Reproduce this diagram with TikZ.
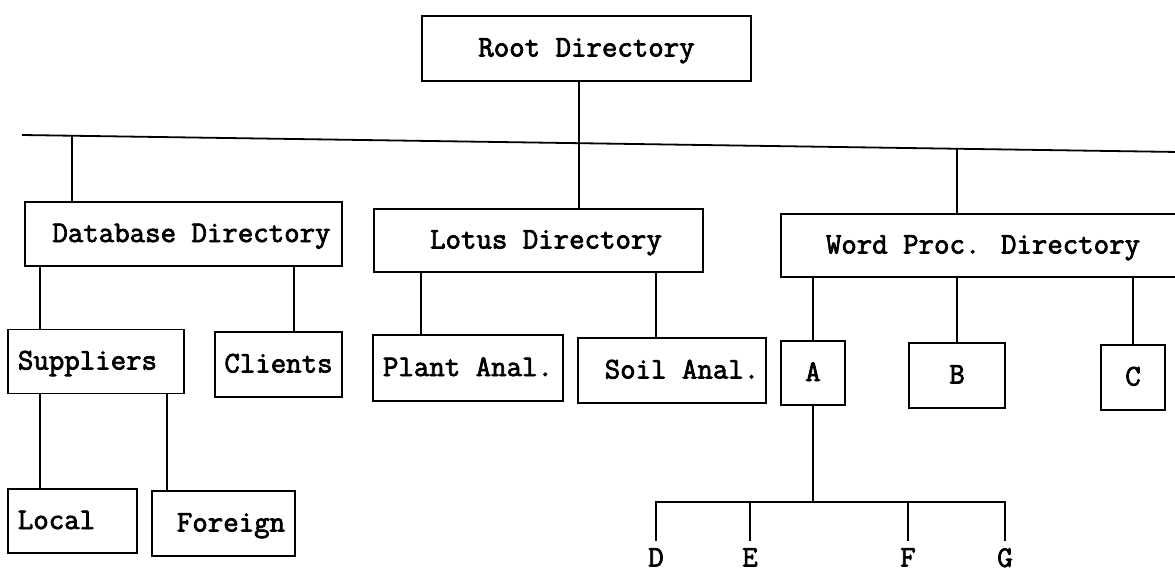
\documentclass[tikz,border=0pt]{standalone}
\usepackage{fontspec}
\newfontfamily\boxfont{Latin Modern Mono}[FakeBold=2.5]
\usetikzlibrary{calc}
\begin{document}
\begin{tikzpicture}[x=1pt,y=-1pt]
\tikzset{
  dirbox/.style={draw, line width=1.8pt, inner sep=0pt, minimum height=64pt,
    text height=20pt, text depth=4pt, font=\boxfont\fontsize{30}{30}\selectfont},
  link/.style={line width=1.8pt},
  leaf/.style={inner sep=0pt, anchor=north, font=\boxfont\fontsize{30}{30}\selectfont}
}
\useasboundingbox (0,0) rectangle (1175,572);

% boxes
\node[dirbox, minimum width=329pt, minimum height=65pt] (root) at (586.5,48.5) {Root Directory};
\node[dirbox, minimum width=317pt] (db) at (183.5,234) {\hspace*{16pt}Database Directory};
\node[dirbox, minimum width=329pt, minimum height=63pt] (lotus) at (538.5,240.5) {\hspace*{15pt}Lotus Directory};
\node[dirbox, minimum width=404pt, minimum height=63pt] (wp) at (983,245.5) {Word Proc. Directory};
\node[dirbox, minimum width=176pt] (sup) at (96,361.5) {Suppliers\hspace*{17pt}};
\node[dirbox, minimum width=127pt, minimum height=65pt] (cli) at (278.5,364.5) {Clients};
\node[dirbox, minimum width=190pt, minimum height=66pt] (plant) at (468,368) {Plant Anal.};
\node[dirbox, minimum width=188pt, minimum height=65pt] (soil) at (672,370.5) {\hspace*{20pt}Soil Anal.};
\node[dirbox, minimum width=64pt] (a) at (813,373) {A};
\node[dirbox, minimum width=96pt, minimum height=65pt] (b) at (957,375.5) {B};
\node[dirbox, minimum width=64pt, minimum height=65pt] (c) at (1133,377.5) {C};
\node[dirbox, minimum width=129pt] (local) at (72.5,521) {Local\hspace*{32pt}};
\node[dirbox, minimum width=143pt, minimum height=65pt] (foreign) at (223.5,523.5) {\hspace*{15pt}Foreign};

% leaf labels
\node[leaf] (ld) at (656,548) {D};
\node[leaf] (le) at (750,548) {E};
\node[leaf] (lf) at (908,548) {F};
\node[leaf] (lg) at (1005,548) {G};

% root to lotus, through the main bus
\draw[link] ([xshift=-7.5pt]root.south) coordinate (r0) -- (r0 |- lotus.north);

% main bus
\coordinate (busL) at (22,135);
\coordinate (busR) at (1185,152.1);
\draw[link] (busL) -- (busR);
\draw[link] ($(busL)!0.043!(busR)$) coordinate (bd) -- (bd |- db.north);
\draw[link] ($(busL)!0.804!(busR)$) coordinate (bw) -- (bw |- wp.north);

% database children
\draw[link] ([xshift=-143.5pt]db.south) coordinate (d1) -- (d1 |- sup.north);
\draw[link] ([xshift=110.5pt]db.south) coordinate (d2) -- (d2 |- cli.north);

% lotus children
\draw[link] ([xshift=-117.5pt]lotus.south) coordinate (l1) -- (l1 |- plant.north);
\draw[link] ([xshift=117.5pt]lotus.south) coordinate (l2) -- (l2 |- soil.north);

% word proc children
\draw[link] (a.north) -- (a.north |- wp.south);
\draw[link] (b.north) -- (b.north |- wp.south);
\draw[link] (c.north) -- (c.north |- wp.south);

% suppliers children
\draw[link] ([xshift=-56pt]sup.south) coordinate (s1) -- (s1 |- local.north);
\draw[link] ([xshift=71pt]sup.south) coordinate (s2) -- (s2 |- foreign.north);

% A children
\coordinate (sb) at (813,502);
\draw[link] (a.south) -- (sb);
\draw[link] ([yshift=7pt]ld.north) -- (ld.north |- sb) -- (lg.north |- sb) -- ([yshift=7pt]lg.north);
\draw[link] ([yshift=7pt]le.north) -- (le.north |- sb);
\draw[link] ([yshift=7pt]lf.north) -- (lf.north |- sb);
\end{tikzpicture}
\end{document}
